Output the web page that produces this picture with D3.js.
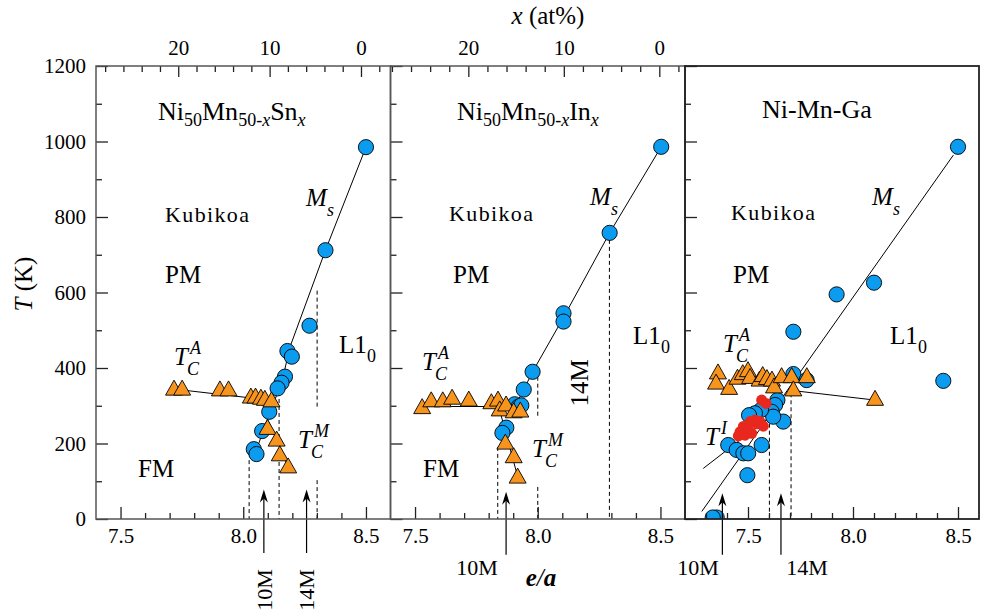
<!DOCTYPE html>
<html>
<head>
<meta charset="utf-8">
<script src="https://cdn.jsdelivr.net/npm/d3@7"></script>
<style>
  body { margin: 0; background: #fff; }
  svg { display: block; }
  svg text { font-family: "Liberation Serif", "DejaVu Serif", serif; fill: #000; }
</style>
</head>
<body>
<svg id="chart" width="982" height="612"></svg>
<script>
// ---------- data: e/a (electrons per atom) vs temperature T (K) ----------

// Ni50Mn50-xSnx
const snMs   = [[8.5,985],[8.335,712],[8.27,512],[8.18,445],[8.198,430],[8.17,377],[8.156,361],[8.14,346],[8.106,284],[8.077,233],[8.043,185],[8.054,172]];
const snTcA  = [[7.718,344],[7.751,344],[7.905,342],[7.94,342],[8.031,323],[8.05,323],[8.072,320],[8.088,317],[8.115,313]];
const snTcM  = [[8.099,240],[8.136,209],[8.149,170],[8.183,138]];
const snMsLine  = [[8.5,985],[8.335,712],[8.19,455],[8.16,370],[8.12,300],[8.09,250],[8.055,185]];
const snTcALine = [[7.72,344],[8.12,314]];
const snTcMLine = [[8.10,262],[8.185,136]];
const snDashes  = [[8.024,156,0],[8.146,318,0],[8.301,605,293],[8.301,103,0]];
const snArrows  = [[8.084,-90,78],[8.258,-90,78]];

// Ni50Mn50-xInx
const inMs   = [[8.503,986],[8.293,758],[8.105,545],[8.105,523],[7.979,390],[7.943,343],[7.906,304],[7.922,298],[7.933,301],[7.872,242],[7.856,228]];
const inTcA  = [[7.529,295],[7.566,313],[7.613,313],[7.651,320],[7.719,315],[7.811,308],[7.838,315],[7.845,289],[7.871,302],[7.902,284],[7.929,286]];
const inTcM  = [[7.868,201],[7.902,165],[7.918,111]];
const inMsLine  = [[8.503,986],[8.293,758],[8.105,534],[7.979,390],[7.943,343],[7.91,302]];
const inTcALine = [[7.53,298],[7.93,298]];
const inTcMLine = [[7.84,300],[7.92,108]];
const inDashes  = [[7.837,191,0],[8.0,377,270],[8.0,85,0],[8.292,758,0]];
const inArrows  = [[7.871,-95,72]];

// Ni-Mn-Ga
const gaMs   = [[8.5,986],[8.1,626],[7.922,595],[7.716,496],[8.43,366],[7.716,384],[7.779,368],[7.64,315],[7.629,302],[7.613,284],[7.668,258],[7.62,271],[7.562,289],[7.533,280],[7.505,275],[7.565,196],[7.406,196],[7.446,183],[7.478,174],[7.501,174],[7.497,116],[7.351,4],[7.332,4]];
const gaTi   = [[7.565,315],[7.586,306],[7.462,231],[7.454,220],[7.478,245],[7.501,240],[7.51,258],[7.533,262],[7.557,258],[7.573,246],[7.518,227],[7.486,222],[7.545,252],[7.49,236]];
const gaTcA  = [[7.357,387],[7.348,360],[7.41,346],[7.45,373],[7.475,385],[7.50,393],[7.51,375],[7.555,368],[7.57,380],[7.59,372],[7.614,368],[7.624,350],[7.66,377],[7.708,377],[7.716,342],[7.78,377],[8.105,317]];
const gaMsLine  = [[8.478,964],[7.28,20]];
const gaTiLine  = [[7.287,134],[7.65,290]];
const gaTcALine = [[7.716,340],[8.105,315]];
const gaDashes  = [[7.602,271,0],[7.705,333,0]];
const gaArrows  = [[7.378,-95,68],[7.657,-95,68]];

// axes
const tTicks      = [0, 200, 400, 600, 800, 1000, 1200];
const tMinorTicks = [100, 300, 500, 700, 900, 1100];
const eaTicks     = [7.5, 8.0, 8.5];
const xatTicks    = [0, 10, 20];

// ---------- drawing ----------
const SERIF = '"Liberation Serif", "DejaVu Serif", serif';
const svg = d3.select("#chart");
const y = d3.scaleLinear().domain([0, 1200]).range([519, 66]);

const C_BLUE = "#0b9cf0", C_ORANGE = "#f7941d", C_RED = "#e8281e";

const panels = [
  { x0: 96,    x1: 390.5, dom: [7.4, 8.6], top: [29.0, -3.23],
    ms: snMs, tcA: snTcA, tcM: snTcM, ti: [], lines: [snMsLine, snTcALine, snTcMLine],
    dashes: snDashes, arrows: snArrows, border: "#555" },
  { x0: 390.5, x1: 685,   dom: [7.4, 8.6], top: [28.15, -2.69],
    ms: inMs, tcA: inTcA, tcM: inTcM, ti: [], lines: [inMsLine, inTcALine, inTcMLine],
    dashes: inDashes, arrows: inArrows, border: "#555" },
  { x0: 685,   x1: 979,   dom: [7.2, 8.6], top: null,
    ms: gaMs, tcA: gaTcA, tcM: [], ti: gaTi, lines: [gaMsLine, gaTiLine, gaTcALine],
    dashes: gaDashes, arrows: gaArrows, border: "#222" }
];

function triPath(cx, cy) {
  const w = 8.5, h = 15;
  return `M${cx},${cy - h * 0.6}L${cx + w},${cy + h * 0.4}L${cx - w},${cy + h * 0.4}Z`;
}

panels.forEach((p, i) => {
  const x = d3.scaleLinear().domain(p.dom).range([p.x0, p.x1]);
  const g = svg.append("g");
  const clipId = "clip" + i;
  svg.append("clipPath").attr("id", clipId)
    .append("rect").attr("x", p.x0).attr("y", 66).attr("width", p.x1 - p.x0).attr("height", 519 - 66);
  const plot = g.append("g").attr("clip-path", `url(#${clipId})`);

  const line = d3.line().x(d => x(d[0])).y(d => y(d[1]));
  p.lines.forEach(l => plot.append("path").attr("d", line(l))
    .attr("fill", "none").attr("stroke", "#000").attr("stroke-width", 1));

  plot.selectAll(".dash").data(p.dashes).join("line")
    .attr("x1", d => x(d[0])).attr("x2", d => x(d[0]))
    .attr("y1", d => y(d[1])).attr("y2", d => y(d[2]))
    .attr("stroke", "#000").attr("stroke-width", 1).attr("stroke-dasharray", "4,3");

  plot.selectAll(".ms").data(p.ms).join("circle")
    .attr("cx", d => x(d[0])).attr("cy", d => y(d[1])).attr("r", 7.6)
    .attr("fill", C_BLUE).attr("stroke", "#000").attr("stroke-width", 0.9);

  plot.selectAll(".tri").data(p.tcA.concat(p.tcM)).join("path")
    .attr("d", d => triPath(x(d[0]), y(d[1])))
    .attr("fill", C_ORANGE).attr("stroke", "#000").attr("stroke-width", 0.9).attr("stroke-linejoin", "round");

  plot.selectAll(".ti").data(p.ti).join("circle")
    .attr("cx", d => x(d[0])).attr("cy", d => y(d[1])).attr("r", 5.5)
    .attr("fill", C_RED);

  // arrows marking modulated martensite phases
  p.arrows.forEach(a => {
    const ax = x(a[0]), yb = y(a[1]), yt = y(a[2]);
    g.append("line").attr("x1", ax).attr("x2", ax).attr("y1", yb).attr("y2", yt + 8)
      .attr("stroke", "#000").attr("stroke-width", 1.2);
    g.append("path").attr("d", `M${ax},${yt}L${ax - 4},${yt + 13}L${ax},${yt + 9}L${ax + 4},${yt + 13}Z`)
      .attr("fill", "#000");
  });

  // axes: ticks point into the panel
  const tickStyle = sel => {
    sel.attr("font-family", SERIF);
    sel.select(".domain").remove();
    sel.selectAll(".tick line").attr("stroke", "#222").attr("stroke-width", 1.3);
    sel.selectAll("text").style("font-size", "21px").style("font-family", SERIF).attr("fill", "#000");
  };
  const minorEa = d3.range(Math.ceil(p.dom[0] * 10 + 1e-6), Math.floor(p.dom[1] * 10 - 1e-6) + 1)
    .map(k => k / 10).filter(v => !eaTicks.some(t => Math.abs(t - v) < 1e-6));

  g.append("g").attr("transform", "translate(0,519)")
    .call(d3.axisBottom(x).tickValues(eaTicks).tickSize(-12).tickPadding(9).tickFormat(d3.format(".1f")))
    .call(tickStyle);
  g.append("g").attr("transform", "translate(0,519)")
    .call(d3.axisBottom(x).tickValues(minorEa).tickSize(-6).tickFormat(""))
    .call(tickStyle);

  g.append("g").attr("transform", `translate(${p.x0},0)`)
    .call(d3.axisLeft(y).tickValues(tTicks).tickSize(-12).tickPadding(10).tickFormat(i === 0 ? d3.format("d") : ""))
    .call(tickStyle);
  g.append("g").attr("transform", `translate(${p.x0},0)`)
    .call(d3.axisLeft(y).tickValues(tMinorTicks).tickSize(-6).tickFormat(""))
    .call(tickStyle);

  if (p.top) {
    const xt = d3.scaleLinear().domain(p.top).range([p.x0, p.x1]);
    const minorAt = d3.range(-2, 29, 2).filter(v => v <= p.top[0] && v >= p.top[1] && v % 10 !== 0);
    g.append("g").attr("transform", "translate(0,66)")
      .call(d3.axisTop(xt).tickValues(xatTicks).tickSize(-11).tickPadding(11).tickFormat(d3.format("d")))
      .call(tickStyle);
    g.append("g").attr("transform", "translate(0,66)")
      .call(d3.axisTop(xt).tickValues(minorAt).tickSize(-6).tickFormat(""))
      .call(tickStyle);
  }

  g.append("rect").attr("x", p.x0).attr("y", 66).attr("width", p.x1 - p.x0).attr("height", 519 - 66)
    .attr("fill", "none").attr("stroke", p.border).attr("stroke-width", i === 2 ? 1.8 : 1.5);
});

// ---------- text annotations ----------
const ann = svg.append("g").attr("font-family", SERIF);

function txt(x, yy, s, size, opts = {}) {
  const t = ann.append("text").attr("x", x).attr("y", yy)
    .style("font-family", SERIF).style("font-size", size + "px").text(s);
  if (opts.italic) t.style("font-style", "italic");
  if (opts.bold) t.style("font-weight", "bold");
  if (opts.anchor) t.attr("text-anchor", opts.anchor);
  if (opts.color) t.attr("fill", opts.color);
  return t;
}

// compound formulas with subscripts
function formula(x, yy, parts) {
  const t = ann.append("text").attr("x", x).attr("y", yy)
    .style("font-family", SERIF).style("font-size", "26px");
  let shift = 0;
  parts.forEach(pt => {
    const target = pt.sub ? 6 : 0;
    const ts = t.append("tspan").attr("dy", target - shift).text(pt.s);
    shift = target;
    if (pt.sub) ts.style("font-size", "18px");
    if (pt.it) ts.style("font-style", "italic");
  });
}
formula(158, 120, [{s: "Ni"}, {s: "50", sub: 1}, {s: "Mn"}, {s: "50-", sub: 1}, {s: "x", sub: 1, it: 1}, {s: "Sn"}, {s: "x", sub: 1, it: 1}]);
formula(457, 120, [{s: "Ni"}, {s: "50", sub: 1}, {s: "Mn"}, {s: "50-", sub: 1}, {s: "x", sub: 1, it: 1}, {s: "In"}, {s: "x", sub: 1, it: 1}]);
txt(762, 118, "Ni-Mn-Ga", 26);

// phase labels
[[165, 222], [449, 221], [731, 220]].forEach(([a, b]) =>
  txt(a, b, "Kubikoa", 22, { color: "#222" }).attr("textLength", 84).attr("lengthAdjust", "spacing"));
[[165, 283], [453, 283], [733, 283]].forEach(([a, b]) => txt(a, b, "PM", 25));
[[138, 477], [423, 477]].forEach(([a, b]) => txt(a, b, "FM", 25));

function l10(x, yy) {
  txt(x, yy, "L1", 25);
  txt(x + 28, yy + 9, "0", 18);
}
l10(339, 353); l10(633, 344); l10(890, 344);

function msLabel(x, yy) {
  txt(x, yy, "M", 25, { italic: true });
  txt(x + 21, yy + 10, "s", 18, { italic: true });
}
msLabel(306, 206); msLabel(590, 205); msLabel(872, 205);

function tLabel(x, yy, sub, sup) {
  txt(x, yy, "T", 25, { italic: true });
  if (sub) txt(x + 13, yy + 10, sub, 18, { italic: true });
  if (sup) txt(x + 16, yy - 11, sup, 18, { italic: true });
}
tLabel(174, 365, "C", "A");
tLabel(298, 448, "C", "M");
tLabel(422, 370, "C", "A");
tLabel(532, 457, "C", "M");
tLabel(723, 352, "C", "A");
tLabel(705, 445, null, "I");

// martensite structure labels
function vtxt(x, yy, s, size) {
  ann.append("text").attr("transform", `translate(${x},${yy}) rotate(-90)`)
    .attr("text-anchor", "middle").style("font-family", SERIF).style("font-size", size + "px").text(s);
}
vtxt(272, 590, "10M", 22);
vtxt(314, 590, "14M", 22);
vtxt(588, 383, "14M", 25);
txt(477, 575, "10M", 22, { anchor: "middle" });
txt(698, 575, "10M", 22, { anchor: "middle" });
txt(807, 575, "14M", 22, { anchor: "middle" });

// axis titles
const yt = ann.append("text").attr("transform", "translate(32,284) rotate(-90)")
  .attr("text-anchor", "middle").style("font-family", SERIF).style("font-size", "25px");
yt.append("tspan").style("font-style", "italic").text("T");
yt.append("tspan").text(" (K)");

const xt = ann.append("text").attr("x", 548).attr("y", 24).attr("text-anchor", "middle")
  .style("font-family", SERIF).style("font-size", "25px");
xt.append("tspan").style("font-style", "italic").text("x");
xt.append("tspan").text(" (at%)");

const ea = ann.append("text").attr("x", 541).attr("y", 586).attr("text-anchor", "middle")
  .style("font-family", SERIF).style("font-size", "25px").style("font-style", "italic").style("font-weight", "bold");
ea.append("tspan").text("e");
ea.append("tspan").style("font-weight", "normal").text("/");
ea.append("tspan").text("a");
</script>
</body>
</html>
